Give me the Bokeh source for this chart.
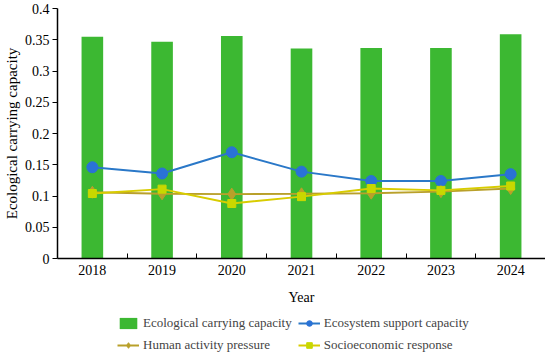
import numpy as np
from bokeh.plotting import figure
from bokeh.layouts import column
from bokeh.models import (Range1d, FixedTicker, CustomJSTickFormatter, ColumnDataSource,
                          Legend, LegendItem)
from bokeh.embed import file_html
from bokeh.resources import INLINE

years = ["2018", "2019", "2020", "2021", "2022", "2023", "2024"]
ecological_carrying = [0.355, 0.347, 0.356, 0.336, 0.337, 0.337, 0.359]
ecosystem_support = [0.146, 0.136, 0.170, 0.139, 0.124, 0.124, 0.135]
human_pressure = [0.106, 0.1035, 0.103, 0.1035, 0.1045, 0.107, 0.112]
socio_response = [0.104, 0.111, 0.088, 0.099, 0.112, 0.109, 0.116]
y_ticks = [0, 0.05, 0.1, 0.15, 0.2, 0.25, 0.3, 0.35, 0.4]
series_names = ["Ecological carrying capacity", "Ecosystem support capacity",
                "Human activity pressure", "Socioeconomic response"]

x = np.arange(len(years)) + 0.5
src = ColumnDataSource(dict(x=x, ecc=ecological_carrying, esc=ecosystem_support,
                            hap=human_pressure, ser=socio_response))

FONT = "Liberation Serif"
GREEN = "#3cb832"
BLUE_L, BLUE_M = "#2a78c8", "#2a72d6"
OLIVE = "#b9a02a"
YEL_L, YEL_M = "#d8cc00", "#c8d800"


def draw(fig, source, xs, cols):
    r_bar = fig.vbar(x=xs, top=cols[0], width=0.31, bottom=0, source=source,
                     fill_color=GREEN, line_color=None)
    r1l = fig.line(xs, cols[1], source=source, line_color=BLUE_L, line_width=2)
    r1m = fig.scatter(xs, cols[1], source=source, marker="circle", size=11,
                      fill_color=BLUE_M, line_color=BLUE_M)
    r2l = fig.line(xs, cols[2], source=source, line_color=OLIVE, line_width=2)
    r2m = fig.scatter(xs, cols[2], source=source, marker="diamond", size=12,
                      fill_color=OLIVE, line_color=OLIVE)
    r3l = fig.line(xs, cols[3], source=source, line_color=YEL_L, line_width=2)
    r3m = fig.scatter(xs, cols[3], source=source, marker="square", size=8,
                      fill_color=YEL_M, line_color=YEL_M)
    return [[r_bar], [r1l, r1m], [r2l, r2m], [r3l, r3m]]


p = figure(frame_width=488, frame_height=250, x_range=Range1d(0, len(years)),
           y_range=Range1d(0, 0.4), output_backend="svg", toolbar_location=None,
           min_border_left=40, min_border_right=0, min_border_top=8, min_border_bottom=10)
p.outline_line_color = None
p.grid.visible = False
draw(p, src, "x", ["ecc", "esc", "hap", "ser"])

xa = p.xaxis[0]
xa.ticker = FixedTicker(ticks=list(x), minor_ticks=list(range(1, len(years))))
xa.formatter = CustomJSTickFormatter(args=dict(labels=years),
                                     code="return labels[Math.floor(tick)];")
xa.major_tick_in = 0
xa.major_tick_out = 0
xa.minor_tick_in = 5
xa.minor_tick_out = 0
xa.axis_label = "Year"

ya = p.yaxis[0]
ya.ticker = FixedTicker(ticks=y_ticks)
ya.formatter = CustomJSTickFormatter(code="return tick.toFixed(2).replace(/\\.?0+$/, '');")
ya.major_tick_in = 0
ya.major_tick_out = 5
ya.minor_tick_in = 0
ya.minor_tick_out = 0
ya.axis_label = "Ecological carrying capacity"

for ax in (xa, ya):
    ax.axis_line_color = "black"
    ax.axis_line_width = 1.5
    ax.major_tick_line_color = "black"
    ax.minor_tick_line_color = "black"
    ax.major_label_text_font = FONT
    ax.major_label_text_font_size = "14px"
    ax.major_label_text_color = "black"
    ax.axis_label_text_font = FONT
    ax.axis_label_text_font_size = "14px"
    ax.axis_label_text_font_style = "normal"
    ax.axis_label_text_color = "black"
ya.axis_label_text_font_size = "15px"
ya.major_label_standoff = 3
ya.axis_label_standoff = 2
xa.major_label_standoff = 6
xa.axis_label_standoff = 12

# legend strip below the chart (its glyphs use a point outside the view)
p2 = figure(width=534, height=46, x_range=Range1d(0, 1), y_range=Range1d(0, 1),
            output_backend="svg", toolbar_location=None,
            min_border_left=0, min_border_right=0, min_border_top=0, min_border_bottom=0)
p2.axis.visible = False
p2.grid.visible = False
p2.outline_line_color = None
off = ColumnDataSource(dict(x=[-5, -6], a=[-5, -6], b=[-5, -6], c=[-5, -6], d=[-5, -6]))
groups = draw(p2, off, "x", ["a", "b", "c", "d"])
items = [LegendItem(label=series_names[i], renderers=groups[i]) for i in (0, 2, 1, 3)]
leg = Legend(items=items, ncols=2, location=(60, 0))
leg.border_line_color = None
leg.background_fill_alpha = 0
leg.label_text_font = FONT
leg.label_text_font_size = "13px"
leg.label_height = 14
leg.glyph_height = 14
leg.glyph_width = 22
leg.spacing = 6
leg.padding = 0
leg.margin = 0
leg.label_standoff = 4
p2.add_layout(leg)

open("out.html", "w").write(file_html(column(p, p2), INLINE))
